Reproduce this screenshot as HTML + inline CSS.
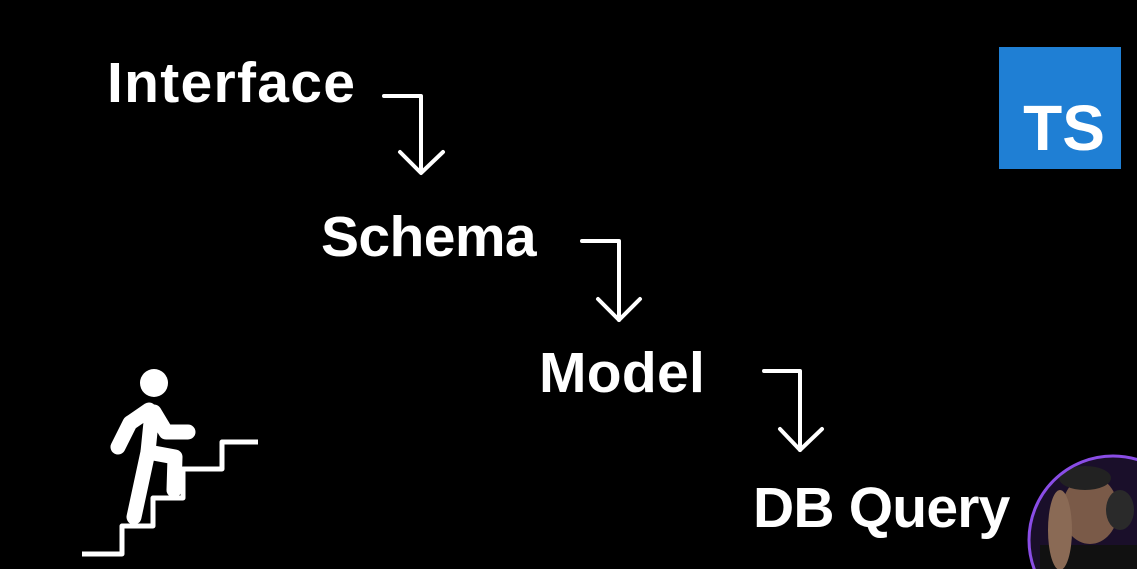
<!DOCTYPE html>
<html><head><style>
html,body{margin:0;padding:0;background:#000;width:1137px;height:569px;overflow:hidden;position:relative}
.t{position:absolute;color:#fff;font-family:"Liberation Sans",sans-serif;font-weight:bold;font-size:57px;line-height:57px;height:57px;white-space:nowrap}
</style></head><body>
<div class="t" style="left:107px;top:55px;letter-spacing:1.3px">Interface</div>
<div class="t" style="left:321px;top:209px;letter-spacing:-0.6px">Schema</div>
<div class="t" style="left:539px;top:345px;letter-spacing:0.3px">Model</div>
<div class="t" style="left:753px;top:480px;letter-spacing:-0.8px">DB Query</div>
<svg width="1137" height="569" style="position:absolute;left:0;top:0;display:block">
<defs><clipPath id="c"><circle cx="1113" cy="540" r="84"/></clipPath></defs>
<g fill="none" stroke="#fff" stroke-width="4" stroke-linecap="round" stroke-linejoin="round">
<polyline points="384,96 421,96 421,172"/><polyline points="400,152 421,173 443,152"/>
<polyline points="582,241 619,241 619,320"/><polyline points="598,299 619,320 640,299"/>
<polyline points="764,371 800,371 800,450"/><polyline points="780,429 800,450 822,429"/>
<polyline stroke-width="5" stroke-linecap="butt" points="82,554 122,554 122,526 153,526 153,498 183,498 183,469 222,469 222,442 258,442"/>
</g>
<circle cx="154" cy="383" r="14" fill="#fff"/>
<g stroke="#fff" stroke-width="15" stroke-linecap="round" fill="none" stroke-linejoin="round">
<polyline points="149,410 130,423 118,447"/>
<polyline points="154,412 166,432 188,432"/>
<polyline points="152,412 148,452 134,517"/>
<polyline points="148,452 175,457 174,490"/>
</g>
<rect x="999" y="47" width="122" height="122" fill="#1f7fd4"/>
<text x="1064" y="150" fill="#fff" font-family="Liberation Sans,sans-serif" font-weight="bold" font-size="64" text-anchor="middle">TS</text>
<circle cx="1113" cy="540" r="84" fill="#1a0f2a"/>
<g clip-path="url(#c)">
<ellipse cx="1090" cy="510" rx="28" ry="34" fill="#7a5a48"/>
<ellipse cx="1085" cy="478" rx="26" ry="12" fill="#222"/>
<rect x="1040" y="545" width="110" height="40" fill="#111"/>
<ellipse cx="1060" cy="530" rx="12" ry="40" fill="#8a6a55"/>
<ellipse cx="1120" cy="510" rx="14" ry="20" fill="#2a2a2a"/>
</g>
<circle cx="1113" cy="540" r="84" fill="none" stroke="#8a4de6" stroke-width="3"/>
</svg>
</body></html>
